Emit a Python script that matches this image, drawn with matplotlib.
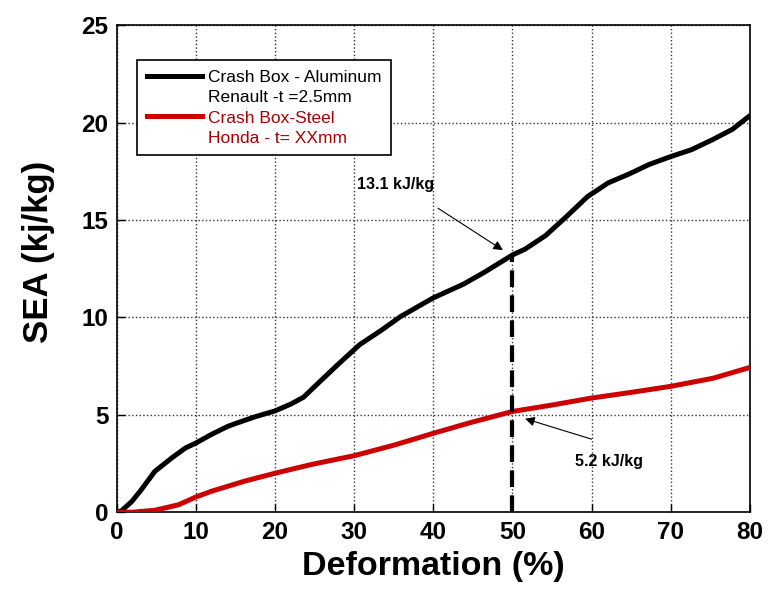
import matplotlib
matplotlib.use("Agg")
import matplotlib.pyplot as plt
from matplotlib.lines import Line2D

plt.rcParams['font.family'] = ['Liberation Sans', 'DejaVu Sans']

# Data
deform_al = [0, 0.6, 1.9, 3, 4.8, 7, 8.7, 10, 12, 14, 15, 17.5, 20, 22, 23.6, 25.4, 28, 30.7, 33.3, 35.9,
             40, 43.8, 46.4, 50, 51.6, 54.2, 56.9, 59.5, 62.1, 64.7, 67.3, 70, 72.6, 75.2, 77.8, 80]
sea_al = [0, 0.07, 0.55, 1.1, 2.09, 2.8, 3.3, 3.55, 4.0, 4.4, 4.55, 4.9, 5.2, 5.55, 5.9, 6.6, 7.6, 8.6,
          9.3, 10.05, 11.0, 11.7, 12.3, 13.2, 13.5, 14.2, 15.2, 16.2, 16.9, 17.35, 17.85, 18.25, 18.6,
          19.1, 19.65, 20.35]
deform_st = [0, 2, 4.8, 7.8, 10, 12, 16.2, 20, 24.6, 30, 35.1, 40, 44.7, 50, 55, 60, 65, 70, 75.4, 80]
sea_st = [0, 0.0, 0.1, 0.38, 0.78, 1.08, 1.6, 2.0, 2.45, 2.9, 3.45, 4.05, 4.6, 5.17, 5.5, 5.86, 6.15,
          6.46, 6.88, 7.43]
labels_al = ["Crash Box - Aluminum", "Renault -t =2.5mm"]
labels_st = ["Crash Box-Steel", "Honda - t= XXmm"]
x_ticks = [0, 10, 20, 30, 40, 50, 60, 70, 80]
y_ticks = [0, 5, 10, 15, 20, 25]
mark_x = 50
mark_al = 13.1
mark_st = 5.2

RED_LINE = '#cc0000'
RED_TEXT = '#aa0000'

fig = plt.figure(figsize=(7.73, 5.97), dpi=100)
ax = fig.add_axes([0.151, 0.142, 0.819, 0.816])

ax.plot(deform_al, sea_al, color='black', lw=3.6, zorder=3,
        solid_joinstyle='round', solid_capstyle='round')
ax.plot(deform_st, sea_st, color=RED_LINE, lw=3.6, zorder=3,
        solid_joinstyle='round', solid_capstyle='round')
ax.plot([mark_x, mark_x], [0, mark_al], color='black', lw=3, ls=(0, (4, 2)), zorder=4)

ax.set_xlim(0, 80)
ax.set_ylim(0, 25)
ax.set_xticks(x_ticks)
ax.set_yticks(y_ticks)
ax.grid(True, ls=':', color='#333333', lw=1)
ax.tick_params(direction='in', length=6, width=1, labelsize=17.5, pad=6)
for lab in ax.get_xticklabels() + ax.get_yticklabels():
    lab.set_fontweight('bold')
for s in ax.spines.values():
    s.set_linewidth(1.2)

ax.set_xlabel("Deformation (%)", fontsize=24.5, fontweight='bold', labelpad=5)
ax.set_ylabel("SEA (kj/kg)", fontsize=25, fontweight='bold')
ax.yaxis.set_label_coords(-0.098, 0.534)

# annotations
ax.annotate('', xy=(48.8, 13.45), xytext=(40.6, 15.6),
            arrowprops=dict(arrowstyle='-|>', color='black', lw=0.8, mutation_scale=14,
                            shrinkA=0, shrinkB=0))
ax.text(30.4, 16.8, f"{mark_al} kJ/kg", fontsize=11.5, fontweight='bold', va='center', ha='left')
ax.annotate('', xy=(51.6, 4.8), xytext=(60, 3.75),
            arrowprops=dict(arrowstyle='-|>', color='black', lw=0.8, mutation_scale=14,
                            shrinkA=0, shrinkB=0))
ax.text(57.9, 2.6, f"{mark_st} kJ/kg", fontsize=11.5, fontweight='bold', va='center', ha='left')

blank = Line2D([], [], color='none')
handles = [Line2D([], [], color='black', lw=3.6), blank,
           Line2D([], [], color=RED_LINE, lw=3.6), blank]
labels = labels_al + labels_st
leg = ax.legend(handles, labels, loc='upper left', bbox_to_anchor=(0.032, 0.928), fontsize=12.5,
                frameon=True, fancybox=False, edgecolor='black', handlelength=3.2,
                handletextpad=0.35, borderpad=0.55, labelspacing=0.3, borderaxespad=0)
leg.get_frame().set_linewidth(1.2)
leg.get_frame().set_alpha(1)
for i, t in enumerate(leg.get_texts()):
    if i >= 2:
        t.set_color(RED_TEXT)

fig.savefig("out.png", dpi=100)
